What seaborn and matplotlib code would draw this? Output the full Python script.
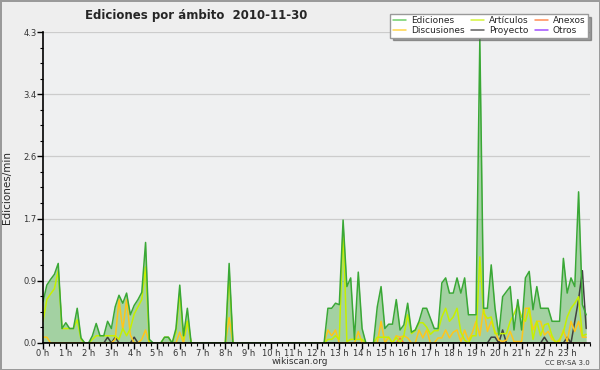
import numpy as np
import matplotlib
matplotlib.use("Agg")
import matplotlib.pyplot as plt
import pandas as pd
import seaborn as sns

# values every 10 minutes, one row of 6 per hour
ediciones = [
    0.57, 0.80, 0.88, 0.95, 1.10, 0.20,
    0.28, 0.20, 0.20, 0.48, 0.07, 0.0,
    0.0, 0.10, 0.27, 0.10, 0.10, 0.30,
    0.20, 0.50, 0.66, 0.55, 0.69, 0.39,
    0.52, 0.60, 0.70, 1.39, 0.05, 0.0,
    0.0, 0.0, 0.08, 0.08, 0.0, 0.20,
    0.80, 0.10, 0.48, 0.0, 0.0, 0.0,
    0.0, 0.0, 0.0, 0.0, 0.0, 0.0,
    0.0, 1.10, 0.0, 0.0, 0.0, 0.0,
    0.0, 0.0, 0.0, 0.0, 0.0, 0.0,
    0.0, 0.0, 0.0, 0.0, 0.0, 0.0,
    0.0, 0.0, 0.0, 0.0, 0.0, 0.0,
    0.0, 0.0, 0.0, 0.48, 0.48, 0.55,
    0.53, 1.70, 0.78, 0.90, 0.05, 0.98,
    0.20, 0.0, 0.0, 0.0, 0.50, 0.78,
    0.20, 0.26, 0.26, 0.60, 0.18, 0.25,
    0.55, 0.15, 0.18, 0.30, 0.48, 0.48,
    0.34, 0.20, 0.20, 0.83, 0.90, 0.69,
    0.69, 0.90, 0.69, 0.90, 0.39, 0.39,
    0.39, 4.20, 0.48, 0.48, 1.08, 0.48,
    0.11, 0.64, 0.71, 0.78, 0.18, 0.60,
    0.18, 0.90, 0.99, 0.46, 0.78, 0.48,
    0.48, 0.48, 0.30, 0.30, 0.30, 1.17,
    0.69, 0.90, 0.78, 2.09, 0.53, 0.39,
]
articulos = [
    0.30, 0.60, 0.68, 0.75, 1.00, 0.20,
    0.20, 0.20, 0.20, 0.32, 0.05, 0.0,
    0.0, 0.05, 0.10, 0.10, 0.10, 0.10,
    0.10, 0.10, 0.05, 0.20, 0.10, 0.20,
    0.40, 0.50, 0.60, 1.05, 0.0, 0.0,
    0.0, 0.0, 0.08, 0.08, 0.0, 0.15,
    0.70, 0.05, 0.30, 0.0, 0.0, 0.0,
    0.0, 0.0, 0.0, 0.0, 0.0, 0.0,
    0.0, 0.95, 0.0, 0.0, 0.0, 0.0,
    0.0, 0.0, 0.0, 0.0, 0.0, 0.0,
    0.0, 0.0, 0.0, 0.0, 0.0, 0.0,
    0.0, 0.0, 0.0, 0.0, 0.0, 0.0,
    0.0, 0.0, 0.0, 0.05, 0.05, 0.10,
    0.05, 1.60, 0.02, 0.05, 0.05, 0.05,
    0.05, 0.0, 0.0, 0.0, 0.08, 0.08,
    0.08, 0.08, 0.0, 0.08, 0.0, 0.10,
    0.39, 0.13, 0.17, 0.28, 0.28, 0.22,
    0.12, 0.17, 0.17, 0.36, 0.48, 0.30,
    0.36, 0.48, 0.15, 0.04, 0.0, 0.10,
    0.10, 1.19, 0.41, 0.34, 0.36, 0.13,
    0.13, 0.13, 0.13, 0.30, 0.40, 0.53,
    0.36, 0.30, 0.48, 0.05, 0.30, 0.10,
    0.25, 0.27, 0.10, 0.0, 0.05, 0.15,
    0.36, 0.48, 0.55, 0.64, 0.10, 0.12,
]
discusiones = [
    0.08, 0.08, 0.0, 0.0, 0.0, 0.0,
    0.0, 0.0, 0.0, 0.0, 0.0, 0.0,
    0.0, 0.0, 0.0, 0.0, 0.0, 0.0,
    0.0, 0.05, 0.60, 0.18, 0.60, 0.11,
    0.0, 0.0, 0.05, 0.18, 0.0, 0.0,
    0.0, 0.0, 0.0, 0.0, 0.0, 0.0,
    0.15, 0.0, 0.30, 0.0, 0.0, 0.0,
    0.0, 0.0, 0.0, 0.0, 0.0, 0.0,
    0.0, 0.35, 0.0, 0.0, 0.0, 0.0,
    0.0, 0.0, 0.0, 0.0, 0.0, 0.0,
    0.0, 0.0, 0.0, 0.0, 0.0, 0.0,
    0.0, 0.0, 0.0, 0.0, 0.0, 0.0,
    0.0, 0.0, 0.0, 0.18, 0.10, 0.18,
    0.0, 0.0, 0.0, 0.0, 0.0, 0.16,
    0.0, 0.0, 0.0, 0.0, 0.0, 0.30,
    0.0, 0.08, 0.0, 0.10, 0.08, 0.10,
    0.07, 0.0, 0.0, 0.18, 0.07, 0.18,
    0.0, 0.0, 0.07, 0.07, 0.18, 0.07,
    0.15, 0.18, 0.02, 0.18, 0.04, 0.14,
    0.30, 0.10, 0.48, 0.16, 0.30, 0.16,
    0.04, 0.02, 0.04, 0.16, 0.02, 0.02,
    0.02, 0.48, 0.48, 0.18, 0.30, 0.30,
    0.11, 0.16, 0.05, 0.02, 0.02, 0.18,
    0.02, 0.30, 0.16, 0.30, 0.08, 0.08,
]
proyecto = [0.0] * 144
for i, v in [(17, 0.08), (19, 0.08), (24, 0.08), (118, 0.08), (119, 0.08),
             (121, 0.18), (132, 0.08), (138, 0.08), (140, 0.3), (141, 0.6),
             (142, 1.0), (143, 0.2)]:
    proyecto[i] = v
anexos = [0.0] * 144
anexos[94] = 0.07
otros = [0.0] * 144

hours = np.arange(144) / 6
bg = "#eff0f1"

colors = {"Ediciones": "#3aa836", "Artículos": "#c6f000", "Anexos": "#ff7f3f",
          "Discusiones": "#ffc61a", "Proyecto": "#404040", "Otros": "#9b3bff"}
legend_colors = {"Ediciones": "#6fcf6a", "Artículos": "#d4f53c", "Anexos": "#ff8c55",
                 "Discusiones": "#ffd54a", "Proyecto": "#606060", "Otros": "#a050ff"}
series = {"Ediciones": ediciones, "Artículos": articulos, "Anexos": anexos,
          "Discusiones": discusiones, "Proyecto": proyecto, "Otros": otros}

df = pd.concat([pd.DataFrame({"hora": hours, "valor": v, "ambito": k}) for k, v in series.items()])

sns.set_theme(style="white")
plt.rcParams["font.family"] = ["DejaVu Sans"]

fig = plt.figure(figsize=(6, 3.7), dpi=100, facecolor="#eeeeee", edgecolor="#9a9a9a", linewidth=2)
ax = fig.add_axes([0.0717, 0.073, 0.9116, 0.8405])
ax.set_facecolor(bg)

ax.fill_between(hours, ediciones, color="#3aa836", alpha=0.42, lw=0)
draw_order = ["Otros", "Anexos", "Proyecto", "Discusiones", "Artículos", "Ediciones"]
for name in draw_order:
    sns.lineplot(data=df[df.ambito == name], x="hora", y="valor", color=colors[name],
                 lw=1.1, ax=ax, legend=False)

ax.set_xlim(0, 24)
ax.set_ylim(0, 4.3)
yt = np.linspace(0, 4.3, 6)
ax.set_yticks(yt)
ax.set_yticklabels(["%.1f" % v for v in yt], fontsize=6, color="#333333")
ax.set_yticks(np.linspace(0, 4.3, 21), minor=True)
ax.set_xticks(range(24))
ax.set_xticklabels(["%d h" % h for h in range(24)], fontsize=6, color="#333333")
ax.set_xticks(np.arange(0, 24.01, 0.25), minor=True)
ax.tick_params(axis="both", which="major", direction="out", length=4, width=1, color="black", pad=0.5)
ax.tick_params(axis="both", which="minor", direction="out", length=2.5, width=0.8, color="black")
ax.tick_params(left=True, bottom=True, which="both")
for v in yt[1:]:
    ax.axhline(v, color="#cccccc", lw=0.9, zorder=0)
for s in ["top", "right"]:
    ax.spines[s].set_visible(False)
for s in ["left", "bottom"]:
    ax.spines[s].set_color("black")
    ax.spines[s].set_linewidth(1.2)
    ax.spines[s].set_zorder(5)
ax.set_xlabel("")
ax.set_ylabel("Ediciones/min", fontsize=7.5, labelpad=8)

order = ["Ediciones", "Discusiones", "Artículos", "Proyecto", "Anexos", "Otros"]
handles = [plt.Line2D([], [], color=legend_colors[n], lw=1.1) for n in order]
leg = fig.legend(handles, order, ncol=3, loc="upper right",
                 bbox_to_anchor=(0.988, 0.975), fontsize=6.5, frameon=True, fancybox=False,
                 shadow=True, handlelength=1.5, handletextpad=0.5, columnspacing=0.7,
                 labelspacing=0.05, borderpad=0.3)
leg.get_frame().set_edgecolor("#999999")
leg.get_frame().set_facecolor("white")

fig.text(0.142, 0.957, "Ediciones por ámbito  2010-11-30", fontsize=8.5, fontweight="bold", ha="left", va="center")
fig.text(0.5, 0.022, "wikiscan.org", fontsize=6.5, ha="center", va="center", color="#333333")
fig.text(0.983, 0.02, "CC BY-SA 3.0", fontsize=5, ha="right", va="center", color="#333333")

plt.savefig("out.png", dpi=100, facecolor=fig.get_facecolor(), edgecolor=fig.get_edgecolor())
